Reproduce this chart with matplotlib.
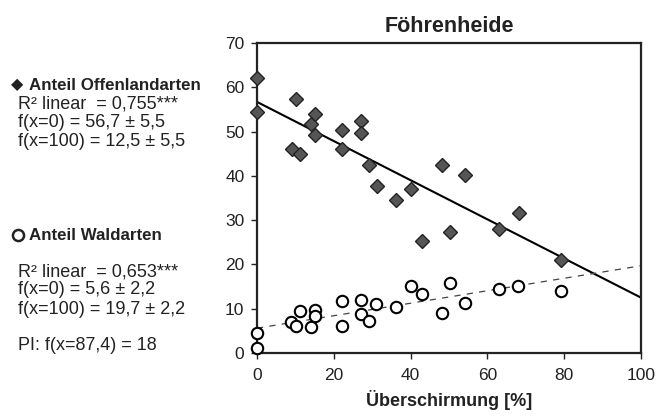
import numpy as np
import matplotlib
matplotlib.use("Agg")
import matplotlib.pyplot as plt
from matplotlib.lines import Line2D

plt.rcParams["font.family"] = ["Liberation Sans", "DejaVu Sans"]

# Überschirmung [%] je Aufnahme
schirm = [0, 0, 10.2, 9.1, 11.1, 14.0, 15.2, 15.2, 22.1, 22.1, 27.1, 27.1,
          29.2, 31.2, 36.2, 40.2, 43.1, 48.1, 54.2, 50.3, 63.1, 68.1, 79.2]
# Anteil Offenlandarten [%]
offenland = [62.2, 54.5, 57.4, 46.0, 45.0, 51.6, 54.0, 49.3, 50.4, 46.0, 52.3, 49.7,
             42.4, 37.6, 34.5, 37.1, 25.4, 42.4, 40.3, 27.3, 27.9, 31.6, 20.9]

# Anteil Waldarten [%]
schirm_w = [0, 0, 8.9, 10.2, 11.1, 14.0, 15.2, 15.2, 22.1, 22.1, 27.1, 27.1,
            29.2, 31.0, 36.1, 40.1, 43.0, 48.1, 50.2, 54.1, 63.1, 68.0, 79.2]
wald = [4.5, 1.2, 6.9, 6.0, 9.5, 5.8, 9.6, 8.3, 11.7, 6.1, 11.9, 8.9,
        7.3, 11.0, 10.5, 15.1, 13.4, 9.0, 15.8, 11.3, 14.5, 15.1, 13.9]

# Regressionsgeraden: f(x=0), f(x=100)
fit_x = [0, 100]
fit_offen = [56.7, 12.5]
fit_wald = [5.6, 19.7]

fig = plt.figure(figsize=(6.68, 4.18), dpi=100)
ax = fig.add_axes([0.3847, 0.1555, 0.5749, 0.7416])

ax.plot(fit_x, fit_offen, color="black", lw=1.5, zorder=2)
ax.plot(fit_x, fit_wald, color="#444444", lw=0.9, dashes=(5, 5), zorder=2)

ax.plot(schirm, offenland, ls="none", marker="D", ms=7, mfc="#555555",
        mec="#222222", mew=1, zorder=3, clip_on=False)
ax.plot(schirm_w, wald, ls="none", marker="o", ms=8.2, mfc="white",
        mec="black", mew=1.5, zorder=3, clip_on=False)

ax.set_xlim(0, 100)
ax.set_ylim(0, 70)
ax.set_xticks(np.arange(0, 101, 20))
ax.set_yticks(np.arange(0, 71, 10))
ax.tick_params(axis="both", direction="out", length=4, width=1, labelsize=12.5,
               colors="#222222")
ax.tick_params(axis="x", pad=7)
ax.tick_params(axis="y", pad=5)
for sp in ax.spines.values():
    sp.set_linewidth(1.6)
    sp.set_color("#222222")

ax.set_title("Föhrenheide", fontsize=15.5, fontweight="bold", color="#222222", pad=8)
ax.set_xlabel("Überschirmung [%]", fontsize=13, fontweight="bold", color="#222222",
              labelpad=5)

# Beschriftung links
tc = "#222222"
fs = 13
fig.text(0.016, 1 - 85 / 418, "◆", fontsize=11.5, color=tc, va="center",
         family=["DejaVu Sans"])
fig.text(0.043, 1 - 85 / 418, "Anteil Offenlandarten", fontsize=12.2, fontweight="bold",
         color=tc, va="center")
fig.text(0.027, 1 - 104 / 418, "R² linear  = 0,755***", fontsize=fs, color=tc, va="center")
fig.text(0.027, 1 - 123 / 418, "f(x=0) = 56,7 ± 5,5", fontsize=fs, color=tc, va="center")
fig.text(0.027, 1 - 142 / 418, "f(x=100) = 12,5 ± 5,5", fontsize=fs, color=tc, va="center")

# Kreissymbol vor "Anteil Waldarten"
fig.add_artist(Line2D([18 / 668], [1 - 235 / 418], transform=fig.transFigure,
                      marker="o", ms=8, mfc="white", mec=tc, mew=1.8, ls="none"))
fig.text(0.043, 1 - 235 / 418, "Anteil Waldarten", fontsize=12.2, fontweight="bold",
         color=tc, va="center")
fig.text(0.027, 1 - 272 / 418, "R² linear  = 0,653***", fontsize=fs, color=tc, va="center")
fig.text(0.027, 1 - 290 / 418, "f(x=0) = 5,6 ± 2,2", fontsize=fs, color=tc, va="center")
fig.text(0.027, 1 - 309 / 418, "f(x=100) = 19,7 ± 2,2", fontsize=fs, color=tc, va="center")
fig.text(0.027, 1 - 345 / 418, "PI: f(x=87,4) = 18", fontsize=fs, color=tc, va="center")

fig.savefig("out.png", dpi=100)
